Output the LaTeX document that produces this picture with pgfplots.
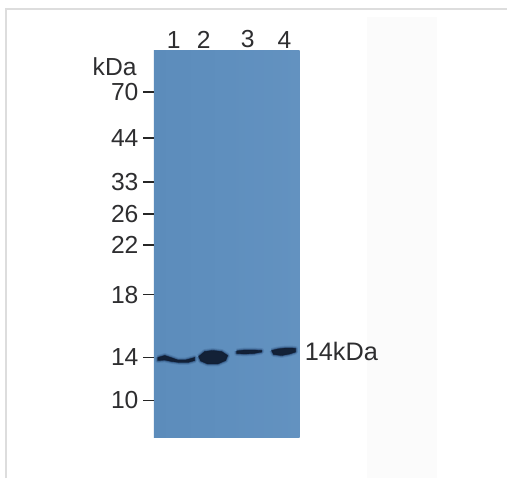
\documentclass[border=0pt]{standalone}
\usepackage{pgfplots}
\pgfplotsset{compat=1.18}
\usepackage{fontspec}
\setmainfont{Liberation Sans}

\definecolor{blotL}{HTML}{5C8CBB}
\definecolor{blotM}{HTML}{5F8FBE}
\definecolor{blotR}{HTML}{6392C0}
\definecolor{bandcore}{HTML}{101C30}
\definecolor{bandsoft}{HTML}{23426C}
\definecolor{labelgray}{HTML}{2E2E30}
\definecolor{framegray}{HTML}{DDDDDD}

% one band = closed outline, pixel coordinates, soft halos under the core
\newcommand{\band}[1]{%
  \addplot[draw=bandsoft, fill=bandsoft, opacity=0.18, line width=3.6pt, line join=round] coordinates {#1};
  \addplot[draw=bandsoft, fill=bandsoft, opacity=0.3, line width=2.2pt, line join=round] coordinates {#1};
  \addplot[draw=bandsoft, fill=bandsoft, opacity=0.55, line width=1.1pt, line join=round] coordinates {#1};
  \addplot[draw=bandcore, fill=bandcore, opacity=0.9, line width=0.2pt, line join=round] coordinates {#1};
}

\begin{document}
\begin{tikzpicture}[x=0.75pt, y=0.75pt]
  % page in pixels of the reference, y from the bottom
  \fill[white] (0,0) rectangle (508,479);
  \fill[black!1.5] (368,0) rectangle (438,462);
  \draw[framegray, line width=1.1pt] (6,0) -- (6,470) -- (508,470);

  \begin{axis}[
    at={(154,41)}, anchor=south west,
    scale only axis,
    width=109.5pt, height=290.25pt,
    xmin=154, xmax=300,
    ymin=41, ymax=428,
    axis line style={draw=none},
    axis x line*=top,
    axis y line*=left,
    clip=false,
    axis background/.style={left color=blotL, right color=blotR, middle color=blotM},
    xtick={174,204,248,285},
    xticklabels={1,2,3,4},
    ytick={387,341,297,265,234,184,121,78},
    yticklabels={70,44,33,26,22,18,14,10},
    x tick style={draw=none},
    y tick style={draw=black!85, line width=1.3pt},
    tick align=outside,
    major tick length=8pt,
    x tick label style={font=\fontsize{18.5}{18.5}\selectfont, text=labelgray, yshift=-9.5pt},
    y tick label style={font=\fontsize{18.5}{18.5}\selectfont, text=labelgray},
    /pgf/number format/assume math mode=true,
  ]
    % lane 1
    \band{(158,121) (165,123) (171,121) (178,118.5) (186,118.5) (195,121)
          (195,118) (188,116) (180,116) (172,117) (165,118.5) (158,118) (158,121)}
    % lane 2
    \band{(199,122) (205,127) (213,128) (222,127) (228,123) (226,118)
          (218,114.5) (208,114.5) (201,117.5) (199,122)}
    % lane 3
    \band{(237,127.5) (245,128.5) (254,128.5) (262,128) (262,126.5) (254,125) (245,124.5) (237,125) (237,127.5)}
    % lane 4
    \band{(272,128) (278,129.5) (286,130.5) (292,130.5) (296,130) (296,126.5)
          (290,124.5) (282,123) (274,124) (272,128)}
    \node[anchor=base east, font=\fontsize{18.5}{18.5}\selectfont, text=labelgray, inner sep=0pt]
      at (axis cs:137,403.5) {kDa};
    \node[anchor=base west, font=\fontsize{19}{19}\selectfont, text=labelgray, inner sep=0pt]
      at (axis cs:305,118) {14kDa};
  \end{axis}
\end{tikzpicture}
\end{document}
